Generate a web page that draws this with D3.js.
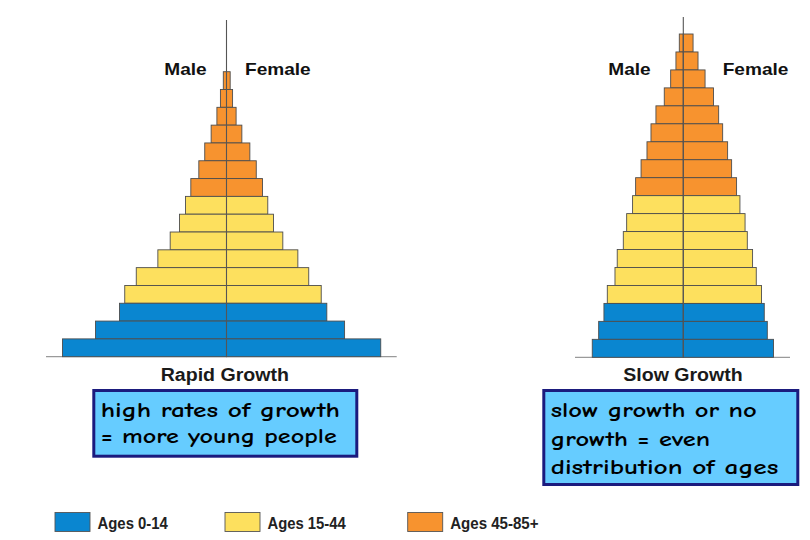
<!DOCTYPE html>
<html>
<head>
<meta charset="utf-8">
<script src="https://cdn.jsdelivr.net/npm/d3@7"></script>
<style>
  html, body { margin: 0; padding: 0; background: #ffffff; }
  svg { display: block; }
</style>
</head>
<body>
<svg id="chart" width="810" height="540"></svg>
<script>
// ---------------- DATA (percent of population) ----------------
// Age groups, oldest first (top row of each pyramid first)
const agesRapid = ["75+","70-74","65-69","60-64","55-59","50-54","45-49",
                   "40-44","35-39","30-34","25-29","20-24","15-19",
                   "10-14","5-9","0-4"];
const agesSlow  = ["85+","80-84","75-79","70-74","65-69","60-64","55-59","50-54","45-49",
                   "40-44","35-39","30-34","25-29","20-24","15-19",
                   "10-14","5-9","0-4"];

const rapidMale   = [0.20,0.38,0.60,0.96,1.36,1.73,2.23, 2.56,2.94,3.52,4.29,5.64,6.36, 6.69,8.19,10.25];
const rapidFemale = [0.23,0.38,0.60,0.96,1.46,1.86,2.25, 2.58,2.94,3.52,4.46,5.14,5.92, 6.27,7.38,9.64];

const slowMale    = [0.25,0.46,0.79,1.19,1.71,2.02,2.27,2.64,2.98, 3.17,3.54,3.75,4.13,4.27,4.75, 4.96,5.29,5.69];
const slowFemale  = [0.61,0.92,1.36,1.89,2.21,2.46,2.77,3.02,3.33, 3.54,3.86,4.00,4.33,4.56,4.89, 5.06,5.25,5.64];

const groupNames  = ["Ages 0-14","Ages 15-44","Ages 45-85+"];
const groupColors = ["#0a86d0","#fde05e","#f7932f"];
const sexLabels   = ["Male","Female"];
const titles      = ["Rapid Growth","Slow Growth"];
const noteRapid   = ["high rates of growth","= more young people"];
const noteSlow    = ["slow growth or no","growth = even","distribution of ages"];

// ---------------- HELPERS ----------------
function groupOf(age) {
  const lo = parseInt(age, 10);
  if (lo < 15) return 0;
  if (lo < 45) return 1;
  return 2;
}

const svg = d3.select("#chart");
const x = d3.scaleLinear().domain([0, 10]).range([0, 160]);
const color = d3.scaleOrdinal().domain([0,1,2]).range(groupColors);

function pyramid(cfg) {
  const g = svg.append("g");
  const y = d3.scaleBand().domain(cfg.ages).range([cfg.top, cfg.base]).padding(0);
  const rows = cfg.ages.map((a, i) => ({age: a, m: cfg.male[i], f: cfg.female[i]}));

  // baseline
  g.append("line")
    .attr("x1", cfg.baseL).attr("x2", cfg.baseR)
    .attr("y1", cfg.base).attr("y2", cfg.base)
    .attr("stroke", "#9a9a9a").attr("stroke-width", 1.2);

  // male bars
  g.selectAll("rect.m").data(rows).join("rect").attr("class","m")
    .attr("x", d => cfg.cx - x(d.m))
    .attr("y", d => y(d.age))
    .attr("width", d => x(d.m))
    .attr("height", y.bandwidth())
    .attr("fill", d => color(groupOf(d.age)))
    .attr("stroke", "#4d4d4d").attr("stroke-width", 0.9);

  // female bars
  g.selectAll("rect.f").data(rows).join("rect").attr("class","f")
    .attr("x", cfg.cx)
    .attr("y", d => y(d.age))
    .attr("width", d => x(d.f))
    .attr("height", y.bandwidth())
    .attr("fill", d => color(groupOf(d.age)))
    .attr("stroke", "#4d4d4d").attr("stroke-width", 0.9);

  // center axis line
  g.append("line")
    .attr("x1", cfg.cx).attr("x2", cfg.cx)
    .attr("y1", cfg.lineTop).attr("y2", cfg.base)
    .attr("stroke", "#555").attr("stroke-width", 1.1);

  // sex labels
  const lab = [[sexLabels[0], cfg.maleX, 42.4], [sexLabels[1], cfg.femaleX, 65.7]];
  g.selectAll("text.sex").data(lab).join("text").attr("class","sex")
    .attr("x", d => d[1]).attr("y", 75)
    .attr("textLength", d => d[2]).attr("lengthAdjust", "spacingAndGlyphs")
    .style("font-family", "Liberation Sans, Arial, sans-serif")
    .style("font-weight", "bold").style("font-size", "17px")
    .attr("fill", "#111")
    .text(d => d[0]);

  // title
  g.append("text")
    .attr("x", cfg.titleX).attr("y", 381)
    .attr("textLength", cfg.titleW).attr("lengthAdjust", "spacingAndGlyphs")
    .style("font-family", "Liberation Sans, Arial, sans-serif")
    .style("font-weight", "bold").style("font-size", "18px")
    .attr("fill", "#1a1a1a")
    .text(cfg.title);
}

pyramid({ages: agesRapid, male: rapidMale, female: rapidFemale,
         cx: 226.5, top: 71.7, base: 356.7, lineTop: 20, baseL: 46, baseR: 396.7,
         maleX: 164.3, femaleX: 245, title: titles[0], titleX: 160.7, titleW: 128.3});
pyramid({ages: agesSlow, male: slowMale, female: slowFemale,
         cx: 683.3, top: 34, base: 357.3, lineTop: 17, baseL: 575, baseR: 790,
         maleX: 608.3, femaleX: 722.7, title: titles[1], titleX: 623.3, titleW: 119.4});

// ---------------- NOTE BOXES ----------------
function noteBox(b) {
  const g = svg.append("g");
  g.append("rect")
    .attr("x", b.x).attr("y", b.y).attr("width", b.w).attr("height", b.h)
    .attr("fill", "#66ccff").attr("stroke", "#1b1b7e").attr("stroke-width", 3);
  g.selectAll("text").data(b.lines).join("text")
    .attr("x", b.tx)
    .attr("y", (d, i) => b.baselines[i])
    .attr("textLength", (d, i) => b.widths[i]).attr("lengthAdjust", "spacingAndGlyphs")
    .style("font-family", "'Comic Sans MS', 'Comic Neue', 'DejaVu Sans', sans-serif")
    .style("font-size", "21px").style("font-weight", "bold")
    .attr("fill", "#000")
    .text(d => d);
}
noteBox({x: 93.8, y: 390.5, w: 263, h: 65.7, tx: 100.7, lines: noteRapid,
         baselines: [416.7, 443.3], widths: [239.3, 236]});
noteBox({x: 543.8, y: 390.5, w: 254, h: 94, tx: 550.7, lines: noteSlow,
         baselines: [416.7, 445.5, 474], widths: [206, 159.3, 227.6]});

// ---------------- LEGEND ----------------
const legendX = [55, 225, 407.7];
const legendTextW = [70.4, 78.3, 88.3];
const lg = svg.append("g").selectAll("g").data(groupNames).join("g")
  .attr("transform", (d, i) => `translate(${legendX[i]},512.5)`);
lg.append("rect")
  .attr("width", 35).attr("height", 19)
  .attr("fill", (d, i) => groupColors[i])
  .attr("stroke", "#555").attr("stroke-width", 0.9);
lg.append("text")
  .attr("x", 42.5).attr("y", 16)
  .attr("textLength", (d, i) => legendTextW[i]).attr("lengthAdjust", "spacingAndGlyphs")
  .style("font-family", "Liberation Sans, Arial, sans-serif")
  .style("font-weight", "bold").style("font-size", "16px")
  .attr("fill", "#222")
  .text(d => d);
</script>
</body>
</html>
